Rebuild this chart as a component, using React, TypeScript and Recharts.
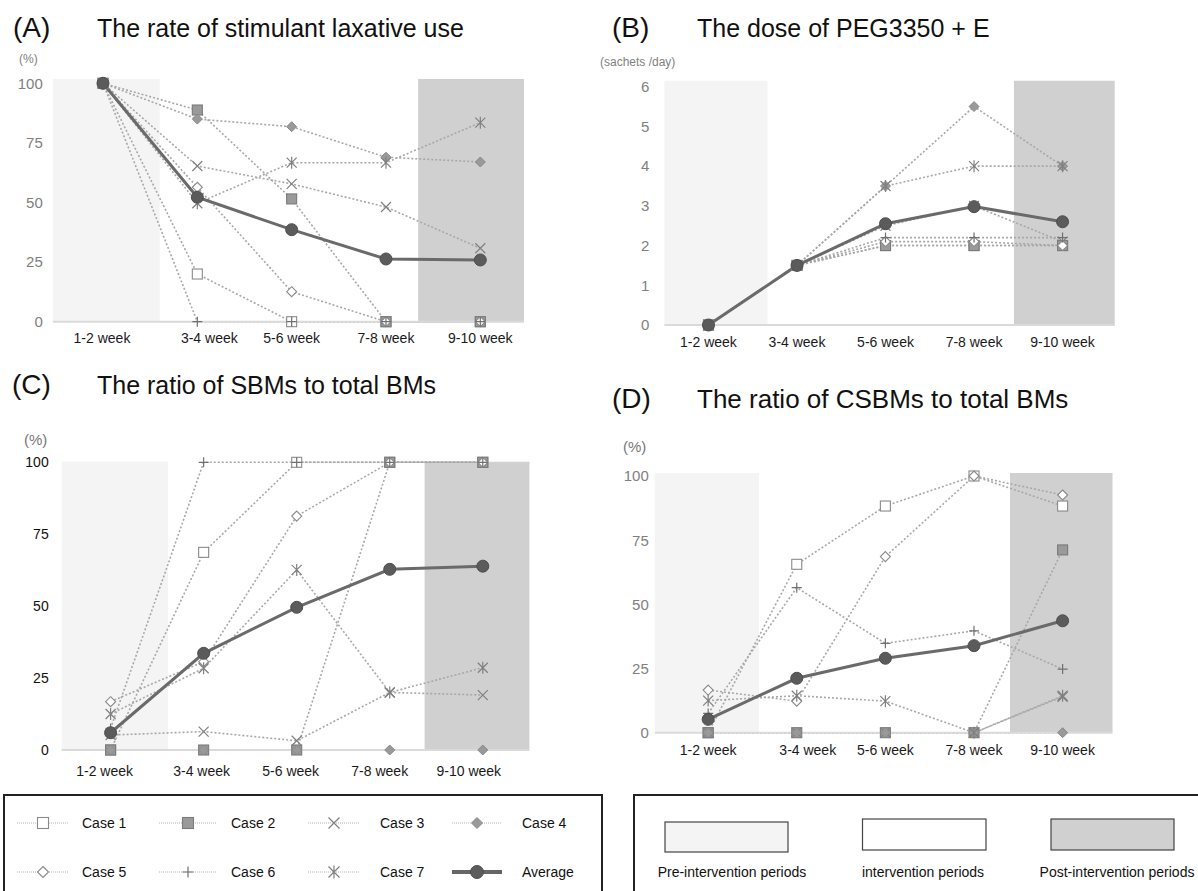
import React from 'react';
import { LineChart, Line, XAxis, YAxis, ReferenceArea } from 'recharts';

const FONT = '"Liberation Sans", Arial, sans-serif';

const weeks = ['1-2 week', '3-4 week', '5-6 week', '7-8 week', '9-10 week'];
const caseNames = ['Case 1', 'Case 2', 'Case 3', 'Case 4', 'Case 5', 'Case 6', 'Case 7'];

// (A) The rate of stimulant laxative use (%)
const stimCase1 = [100, 20, 0, 0, 0];
const stimCase2 = [100, 88.8, 51.5, 0, 0];
const stimCase3 = [100, 65.3, 57.8, 48.1, 30.8];
const stimCase4 = [100, 85, 81.8, 69, 67];
const stimCase5 = [100, 56.4, 12.6, 0, 0];
const stimCase6 = [100, 0, 0, 0, 0];
const stimCase7 = [100, 49.7, 66.7, 66.7, 83.5];
const stimAverage = [100, 52.2, 38.6, 26.3, 25.9];

// (B) The dose of PEG3350 + E (sachets/day)
const pegCase1 = [0, 1.5, 2.0, 2.0, 2.0];
const pegCase2 = [0, 1.5, 2.0, 2.0, 2.0];
const pegCase3 = [0, 1.5, 2.5, 3.0, 2.1];
const pegCase4 = [0, 1.5, 3.5, 5.5, 4.0];
const pegCase5 = [0, 1.5, 2.1, 2.1, 2.0];
const pegCase6 = [0, 1.5, 2.2, 2.2, 2.2];
const pegCase7 = [0, 1.5, 3.5, 4.0, 4.0];
const pegAverage = [0, 1.5, 2.55, 2.98, 2.6];

// (C) The ratio of SBMs to total BMs (%)
const sbmCase1 = [0, 68.7, 100, 100, 100];
const sbmCase2 = [0, 0, 0, 100, 100];
const sbmCase3 = [5.2, 6.4, 3.2, 20, 19.1];
const sbmCase4 = [0, 0, 0, 0, 0];
const sbmCase5 = [16.8, 30.7, 81.3, 100, 100];
const sbmCase6 = [7.5, 100, 100, 100, 100];
const sbmCase7 = [12.5, 28.4, 62.6, 20, 28.6];
const sbmAverage = [6.0, 33.6, 49.6, 62.8, 63.9];

// (D) The ratio of CSBMs to total BMs (%)
const csbmCase1 = [0, 65.6, 88.3, 100, 88.3];
const csbmCase2 = [0, 0, 0, 0, 71.2];
const csbmCase3 = [0, 0, 0, 0, 14.0];
const csbmCase4 = [0, 0, 0, 0, 0];
const csbmCase5 = [16.6, 12.3, 68.6, 100, 92.6];
const csbmCase6 = [7.5, 56.5, 34.8, 39.7, 24.8];
const csbmCase7 = [12.5, 14.4, 12.3, 0, 14.4];
const csbmAverage = [5.2, 21.2, 29.0, 33.9, 43.6];

const percentTicks = [0, 25, 50, 75, 100];
const doseTicks = [0, 1, 2, 3, 4, 5, 6];
const periodLabels = ['Pre-intervention periods', 'intervention periods', 'Post-intervention periods'];

const shapes = ['openSquare', 'filledSquare', 'cross', 'filledDiamond', 'openDiamond', 'plus', 'asterisk'];

const Marker = ({ shape, cx, cy, s = 5 }: { shape: string; cx: number; cy: number; s?: number }) => {
  if (cx == null || cy == null || isNaN(cx) || isNaN(cy)) return <g />;
  const line = '#808080';
  switch (shape) {
    case 'openSquare':
      return <rect x={cx - s} y={cy - s} width={2 * s} height={2 * s} fill="#fff" stroke="#8a8a8a" strokeWidth={1.1} />;
    case 'filledSquare':
      return <rect x={cx - s} y={cy - s} width={2 * s} height={2 * s} fill="#9a9a9a" stroke="#7a7a7a" strokeWidth={1.1} />;
    case 'cross':
      return <path d={`M${cx - s},${cy - s}L${cx + s},${cy + s}M${cx + s},${cy - s}L${cx - s},${cy + s}`} stroke={line} strokeWidth={1.2} fill="none" />;
    case 'filledDiamond':
      return <path d={`M${cx},${cy - s}L${cx + s},${cy}L${cx},${cy + s}L${cx - s},${cy}Z`} fill="#999" stroke="#8a8a8a" strokeWidth={1} />;
    case 'openDiamond':
      return <path d={`M${cx},${cy - s}L${cx + s},${cy}L${cx},${cy + s}L${cx - s},${cy}Z`} fill="#fff" stroke="#8a8a8a" strokeWidth={1.1} />;
    case 'plus':
      return <path d={`M${cx - s},${cy}L${cx + s},${cy}M${cx},${cy - s}L${cx},${cy + s}`} stroke="#707070" strokeWidth={1.2} fill="none" />;
    case 'asterisk':
      return <path d={`M${cx - s},${cy - s}L${cx + s},${cy + s}M${cx + s},${cy - s}L${cx - s},${cy + s}M${cx},${cy - s - 1}L${cx},${cy + s + 1}`} stroke={line} strokeWidth={1.2} fill="none" />;
    case 'circle':
      return <circle cx={cx} cy={cy} r={s} fill="#5b5b5b" stroke="#4e4e4e" strokeWidth={1} />;
    default:
      return <g />;
  }
};

const makeDot = (shape: string, key: string, s: number) => (props: any) => (
  <Marker key={`${key}-${props.index}`} shape={shape} cx={props.cx} cy={props.cy} s={s} />
);

const makeXTick = (offsets: number[], fs: number, fill: string) => (props: any) => {
  const { x, y, payload } = props;
  const i = Math.round(payload.value) - 1;
  return (
    <text x={x + (offsets[i] || 0)} y={y} dy="0.71em" textAnchor="middle" fontSize={fs} fill={fill} fontFamily={FONT}>
      {weeks[i]}
    </text>
  );
};

type PanelProps = {
  left: number; top: number; width: number; height: number;
  plotLeft: number; plotRight: number; plotTop: number; plotBottom: number;
  xDomain: [number, number]; preEnd: number; postStart: number;
  yDomain: [number, number]; yTicks: number[]; shadeTop: number;
  cases: number[][]; avg: number[];
  yFont: number; yFill: string; yGap: number;
  xFont: number; xGap: number; xOffsets: number[];
};

const Panel = (p: PanelProps) => {
  const data = weeks.map((w, i) => {
    const row: any = { x: i + 1, week: w, avg: p.avg[i] };
    p.cases.forEach((c, j) => { row['c' + (j + 1)] = c[i]; });
    return row;
  });
  return (
    <div style={{ position: 'absolute', left: p.left, top: p.top, width: p.width, height: p.height }}>
      <LineChart
        width={p.width}
        height={p.height}
        data={data}
        margin={{ top: p.plotTop - p.top, right: p.left + p.width - p.plotRight, bottom: 0, left: 0 }}
      >
        <ReferenceArea x1={p.xDomain[0]} x2={p.preEnd} y1={p.yDomain[0]} y2={p.shadeTop} fill="#f4f4f4" fillOpacity={1} stroke="none" ifOverflow="visible" />
        <ReferenceArea x1={p.postStart} x2={p.xDomain[1]} y1={p.yDomain[0]} y2={p.shadeTop} fill="#d0d0d0" fillOpacity={1} stroke="none" ifOverflow="visible" />
        <XAxis
          type="number"
          dataKey="x"
          domain={p.xDomain}
          ticks={[1, 2, 3, 4, 5]}
          height={p.top + p.height - p.plotBottom}
          axisLine={{ stroke: '#dadada', strokeWidth: 2 }}
          tickLine={false}
          tickSize={0}
          tickMargin={p.xGap}
          tick={makeXTick(p.xOffsets, p.xFont, '#1a1a1a')}
          interval={0}
        />
        <YAxis
          type="number"
          domain={p.yDomain}
          ticks={p.yTicks}
          width={p.plotLeft - p.left}
          axisLine={false}
          tickLine={false}
          tickSize={0}
          tickMargin={p.yGap}
          tick={{ fontSize: p.yFont, fill: p.yFill, fontFamily: FONT }}
          interval={0}
        />
        {p.cases.map((c, j) => (
          <Line
            key={'c' + (j + 1)}
            dataKey={'c' + (j + 1)}
            name={caseNames[j]}
            type="linear"
            stroke="#a8a8a8"
            strokeWidth={1.6}
            strokeDasharray="2 2"
            dot={makeDot(shapes[j], 'c' + (j + 1), 5)}
            activeDot={false}
            isAnimationActive={false}
          />
        ))}
        <Line
          dataKey="avg"
          name="Average"
          type="linear"
          stroke="#6a6a6a"
          strokeWidth={3}
          dot={makeDot('circle', 'avg', 6)}
          activeDot={false}
          isAnimationActive={false}
        />
      </LineChart>
    </div>
  );
};

const legendCols = [
  { x1: 17, x2: 69, tx: 82 },
  { x1: 159, x2: 217, tx: 231 },
  { x1: 308, x2: 360, tx: 380 },
  { x1: 452, x2: 502, tx: 522 },
];
const legendRows = [823, 872];

const App = () => {
  const legendItems = [...caseNames, 'Average'];
  return (
    <div style={{ position: 'absolute', left: 0, top: 0, width: 1198, height: 891, overflow: 'hidden', background: '#fff', fontFamily: FONT }}>
      <Panel
        left={0} top={60} width={540} height={300}
        plotLeft={52.8} plotRight={524} plotTop={83.3} plotBottom={321.7}
        xDomain={[0.468, 5.463]} preEnd={1.601} postStart={4.341}
        yDomain={[0, 100]} yTicks={percentTicks} shadeTop={101.8}
        cases={[stimCase1, stimCase2, stimCase3, stimCase4, stimCase5, stimCase6, stimCase7]} avg={stimAverage}
        yFont={15} yFill="#808080" yGap={10}
        xFont={14} xGap={11} xOffsets={[-1, 12, 0, 0, 0]}
      />
      <Panel
        left={600} top={60} width={598} height={300}
        plotLeft={664.4} plotRight={1114.7} plotTop={86.7} plotBottom={325}
        xDomain={[0.502, 5.589]} preEnd={1.667} postStart={4.451}
        yDomain={[0, 6]} yTicks={doseTicks} shadeTop={6.15}
        cases={[pegCase1, pegCase2, pegCase3, pegCase4, pegCase5, pegCase6, pegCase7]} avg={pegAverage}
        yFont={15} yFill="#808080" yGap={15}
        xFont={14} xGap={12} xOffsets={[0, 0, 0, 0, 0]}
      />
      <Panel
        left={0} top={440} width={540} height={350}
        plotLeft={61.7} plotRight={529.4} plotTop={462.3} plotBottom={750}
        xDomain={[0.4745, 5.5008]} preEnd={1.617} postStart={4.3745}
        yDomain={[0, 100]} yTicks={percentTicks} shadeTop={100.2}
        cases={[sbmCase1, sbmCase2, sbmCase3, sbmCase4, sbmCase5, sbmCase6, sbmCase7]} avg={sbmAverage}
        yFont={14} yFill="#111" yGap={13}
        xFont={14} xGap={16} xOffsets={[-6, -2, -6, -10, -14]}
      />
      <Panel
        left={600} top={450} width={598} height={330}
        plotLeft={654.8} plotRight={1112.5} plotTop={476} plotBottom={732.7}
        xDomain={[0.398, 5.563]} preEnd={1.574} postStart={4.406}
        yDomain={[0, 100]} yTicks={percentTicks} shadeTop={101.2}
        cases={[csbmCase1, csbmCase2, csbmCase3, csbmCase4, csbmCase5, csbmCase6, csbmCase7]} avg={csbmAverage}
        yFont={15} yFill="#808080" yGap={6}
        xFont={14} xGap={12} xOffsets={[0, 11, 0, 0, 0]}
      />
      <svg width={1198} height={891} style={{ position: 'absolute', left: 0, top: 0, pointerEvents: 'none' }} fontFamily={FONT}>
        <text x={13} y={37} fontSize={28} fill="#111">(A)</text>
        <text x={97} y={37} fontSize={25} fill="#111">The rate of stimulant laxative use</text>
        <text x={19} y={63} fontSize={12} fill="#7f7f7f">(%)</text>

        <text x={612} y={37} fontSize={28} fill="#111">(B)</text>
        <text x={697} y={37} fontSize={25} fill="#111">The dose of PEG3350 + E</text>
        <text x={600} y={66} fontSize={12} fill="#7f7f7f">(sachets /day)</text>

        <text x={12} y={394} fontSize={28} fill="#111">(C)</text>
        <text x={97} y={394} fontSize={25} fill="#111">The ratio of SBMs to total BMs</text>
        <text x={24} y={445} fontSize={15} fill="#777">(%)</text>

        <text x={612} y={408} fontSize={28} fill="#111">(D)</text>
        <text x={697} y={408} fontSize={26} fill="#111">The ratio of CSBMs to total BMs</text>
        <text x={623} y={452} fontSize={15} fill="#777">(%)</text>

        <rect x={4} y={795} width={598} height={130} fill="none" stroke="#222" strokeWidth={2} />
        {legendItems.map((name, k) => {
          const col = legendCols[k % 4];
          const y = legendRows[Math.floor(k / 4)];
          const cx = (col.x1 + col.x2) / 2;
          const isAvg = name === 'Average';
          return (
            <g key={name}>
              {isAvg ? (
                <line x1={col.x1} x2={col.x2} y1={y} y2={y} stroke="#666" strokeWidth={4} />
              ) : (
                <line x1={col.x1} x2={col.x2} y1={y} y2={y} stroke="#b5b5b5" strokeWidth={1} strokeDasharray="1 1" />
              )}
              <Marker shape={isAvg ? 'circle' : shapes[k]} cx={cx} cy={y} s={isAvg ? 6.5 : 5.5} />
              <text x={col.tx} y={y + 5} fontSize={14} fill="#111">{name}</text>
            </g>
          );
        })}

        <rect x={634} y={795} width={600} height={130} fill="none" stroke="#222" strokeWidth={2} />
        <rect x={665} y={822} width={123} height={30} fill="#f4f4f4" stroke="#444" strokeWidth={1.2} />
        <rect x={862.5} y={819} width={123.5} height={31} fill="#fff" stroke="#444" strokeWidth={1.2} />
        <rect x={1051} y={819} width={123} height={31} fill="#d0d0d0" stroke="#444" strokeWidth={1.2} />
        <text x={732} y={877} fontSize={14} fill="#111" textAnchor="middle">{periodLabels[0]}</text>
        <text x={923} y={877} fontSize={14} fill="#111" textAnchor="middle">{periodLabels[1]}</text>
        <text x={1117} y={877} fontSize={14} fill="#111" textAnchor="middle">{periodLabels[2]}</text>
      </svg>
    </div>
  );
};

export default App;
